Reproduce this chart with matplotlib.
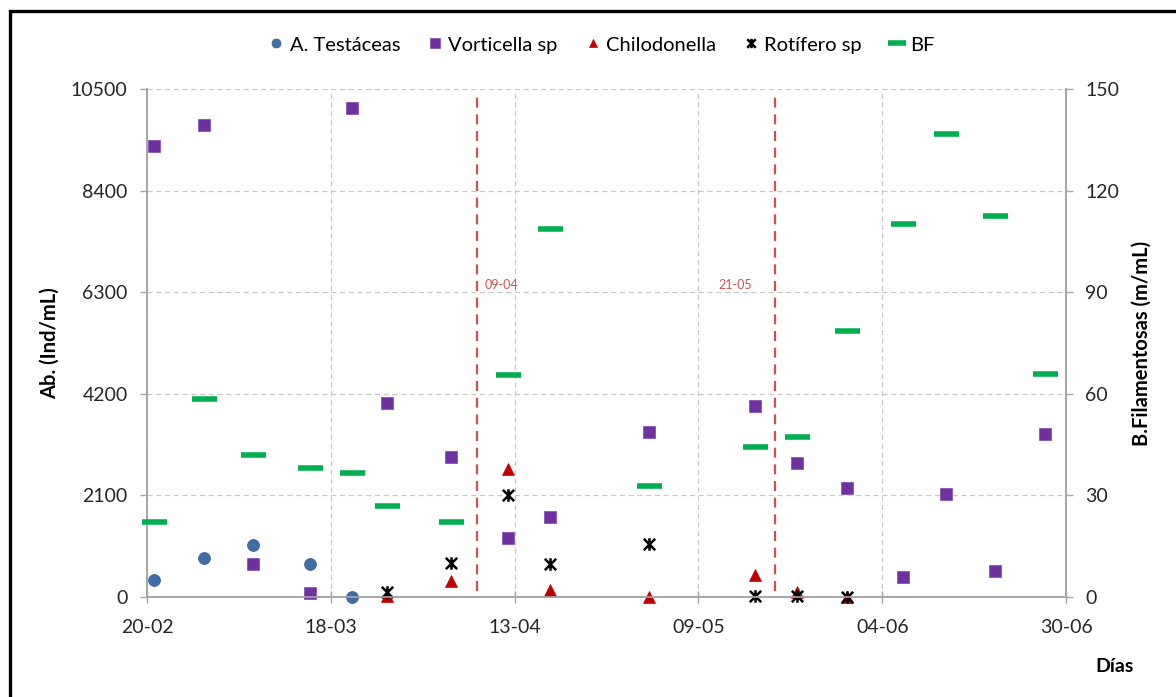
import numpy as np
import pandas as pd
import matplotlib
matplotlib.use("Agg")
from matplotlib import pyplot as plt
from matplotlib import dates as mdates
from matplotlib.path import Path
from matplotlib.patches import Rectangle

plt.rcParams['font.family'] = ['Lato', 'DejaVu Sans']

#####* data (year assumed, not shown)
testaceas_dates = ["2013-02-21", "2013-02-28", "2013-03-07", "2013-03-15", "2013-03-21"]
testaceas = [350, 810, 1070, 680, 0]

vorticella_dates = ["2013-02-21", "2013-02-28", "2013-03-07", "2013-03-15", "2013-03-21",
                    "2013-03-26", "2013-04-04", "2013-04-12", "2013-04-18", "2013-05-02",
                    "2013-05-17", "2013-05-23", "2013-05-30", "2013-06-07", "2013-06-13",
                    "2013-06-20", "2013-06-27"]
vorticella = [9320, 9760, 680, 90, 10100, 4000, 2890, 1210, 1660, 3420,
              3940, 2760, 2260, 410, 2120, 540, 3360]

chilo_dates = ["2013-03-26", "2013-04-04", "2013-04-12", "2013-04-18", "2013-05-02",
               "2013-05-17", "2013-05-23", "2013-05-30"]
chilodonella = [20, 330, 2640, 140, 0, 450, 110, 10]

rotifero_dates = chilo_dates
rotifero = [110, 700, 2100, 680, 1090, 20, 20, 0]

bf_dates = vorticella_dates
bf = [22, 58.6, 41.8, 38, 36.5, 26.8, 22, 65.5, 108.8, 32.8,
      44.3, 47.2, 78.5, 110.1, 136.6, 112.6, 65.7]

event_dates = ["2013-04-07 17:00", "2013-05-19 19:00"]
event_labels = ["09-04", "21-05"]

x_ticks = ["2013-02-20", "2013-03-18", "2013-04-13", "2013-05-09", "2013-06-04", "2013-06-30"]
left_ticks = [0, 2100, 4200, 6300, 8400, 10500]
right_ticks = [0, 30, 60, 90, 120, 150]


def to_num(d):
    return mdates.date2num(pd.to_datetime(d))


# asterisk-like marker (X plus vertical bar), Excel "star"
star = Path([(-1, -1), (1, 1), (-1, 1), (1, -1), (0, -1.1), (0, 1.1)],
            [Path.MOVETO, Path.LINETO, Path.MOVETO, Path.LINETO, Path.MOVETO, Path.LINETO])

fig = plt.figure(figsize=(11.76, 6.97), dpi=100)
ax = fig.add_axes([147 / 1176, 1 - 597 / 697, (1066 - 147) / 1176, (597 - 89) / 697])
ax2 = ax.twinx()

grid_c = '#c8c8c8'
spine_c = '#a6a6a6'
text_c = '#262626'

h1, = ax.plot(to_num(testaceas_dates), testaceas, 'o', ms=8.5, color='#3f6ea6',
              mec='#3a5f8f', mew=0.6, label='A. Testáceas', zorder=4, clip_on=False)
h2, = ax.plot(to_num(vorticella_dates), vorticella, 's', ms=9, color='#7030a0',
              mec='#8a55b5', mew=0.6, label='Vorticella sp', zorder=4, clip_on=False)
h3, = ax.plot(to_num(chilo_dates), chilodonella, '^', ms=8.5, color='#c00000',
              mec='#c00000', mew=0.5, label='Chilodonella', zorder=4, clip_on=False)
h4, = ax.plot(to_num(rotifero_dates), rotifero, ls='none', marker=star, ms=9,
              mec='black', mfc='none', mew=1.8, label='Rotífero sp', zorder=5, clip_on=False)
h5, = ax2.plot(to_num(bf_dates), bf, '_', ms=18, color='#00b050', mew=4.0,
               label='BF', zorder=4, clip_on=False)

for d, lab, dx, ha in zip(event_dates, event_labels, [5, -16], ['left', 'right']):
    xv = to_num(d)
    ax.axvline(xv, ymin=0.012, ymax=0.985, color='#d0504f', ls=(0, (4.5, 3)), lw=1.6, zorder=3)
    ax.annotate(lab, (xv, 6450), xytext=(dx, 0), textcoords='offset points',
                ha=ha, va='center', fontsize=9, color='#d0504f')

ax.set_xlim(to_num(x_ticks[0]), to_num(x_ticks[-1]))
ax.set_xticks(to_num(x_ticks))
ax.xaxis.set_major_formatter(mdates.DateFormatter('%d-%m'))
ax.set_ylim(0, 10500)
ax.set_yticks(left_ticks)
ax2.set_ylim(0, 150)
ax2.set_yticks(right_ticks)

ax.grid(True, color=grid_c, ls=(0, (4, 3)), lw=0.9)
ax.set_axisbelow(True)

for a in (ax, ax2):
    a.spines['top'].set_visible(False)
    for s in ('left', 'right', 'bottom'):
        a.spines[s].set_color(spine_c)
        a.spines[s].set_linewidth(1.2)
    a.tick_params(colors=spine_c, labelcolor=text_c, labelsize=14, width=1.0, length=5)
ax.tick_params(axis='x', direction='inout', length=9, pad=11)
ax.tick_params(axis='y', pad=9)
ax2.tick_params(axis='y', pad=9)

ax.set_ylabel('Ab. (Ind/mL)', fontsize=14.5, fontweight='bold')
ax.yaxis.set_label_coords((60 - 147) / (1066 - 147), 0.5)
ax2.set_ylabel('B.Filamentosas (m/mL)', fontsize=14.5, fontweight='bold')
ax2.yaxis.set_label_coords((1132 - 147) / (1066 - 147), 0.5)
fig.text(1115 / 1176, 1 - 666 / 697, 'Días', fontsize=14, fontweight='bold',
         ha='center', va='center')

fig.legend(handles=[h1, h2, h3, h4, h5], loc='center', bbox_to_anchor=(0.512, 1 - 45 / 697),
           ncol=5, frameon=False, fontsize=14.5, handlelength=0.7, handletextpad=0.3,
           columnspacing=1.4, markerscale=0.75)

# outer black frame (cut off on right/bottom, as in the source)
fig.patches.append(Rectangle((10 / 1176, -0.1), 1.2, 1.1 - 11 / 697, transform=fig.transFigure,
                             fill=False, ec='black', lw=2.4, zorder=10))

fig.savefig('out.png', dpi=100)
